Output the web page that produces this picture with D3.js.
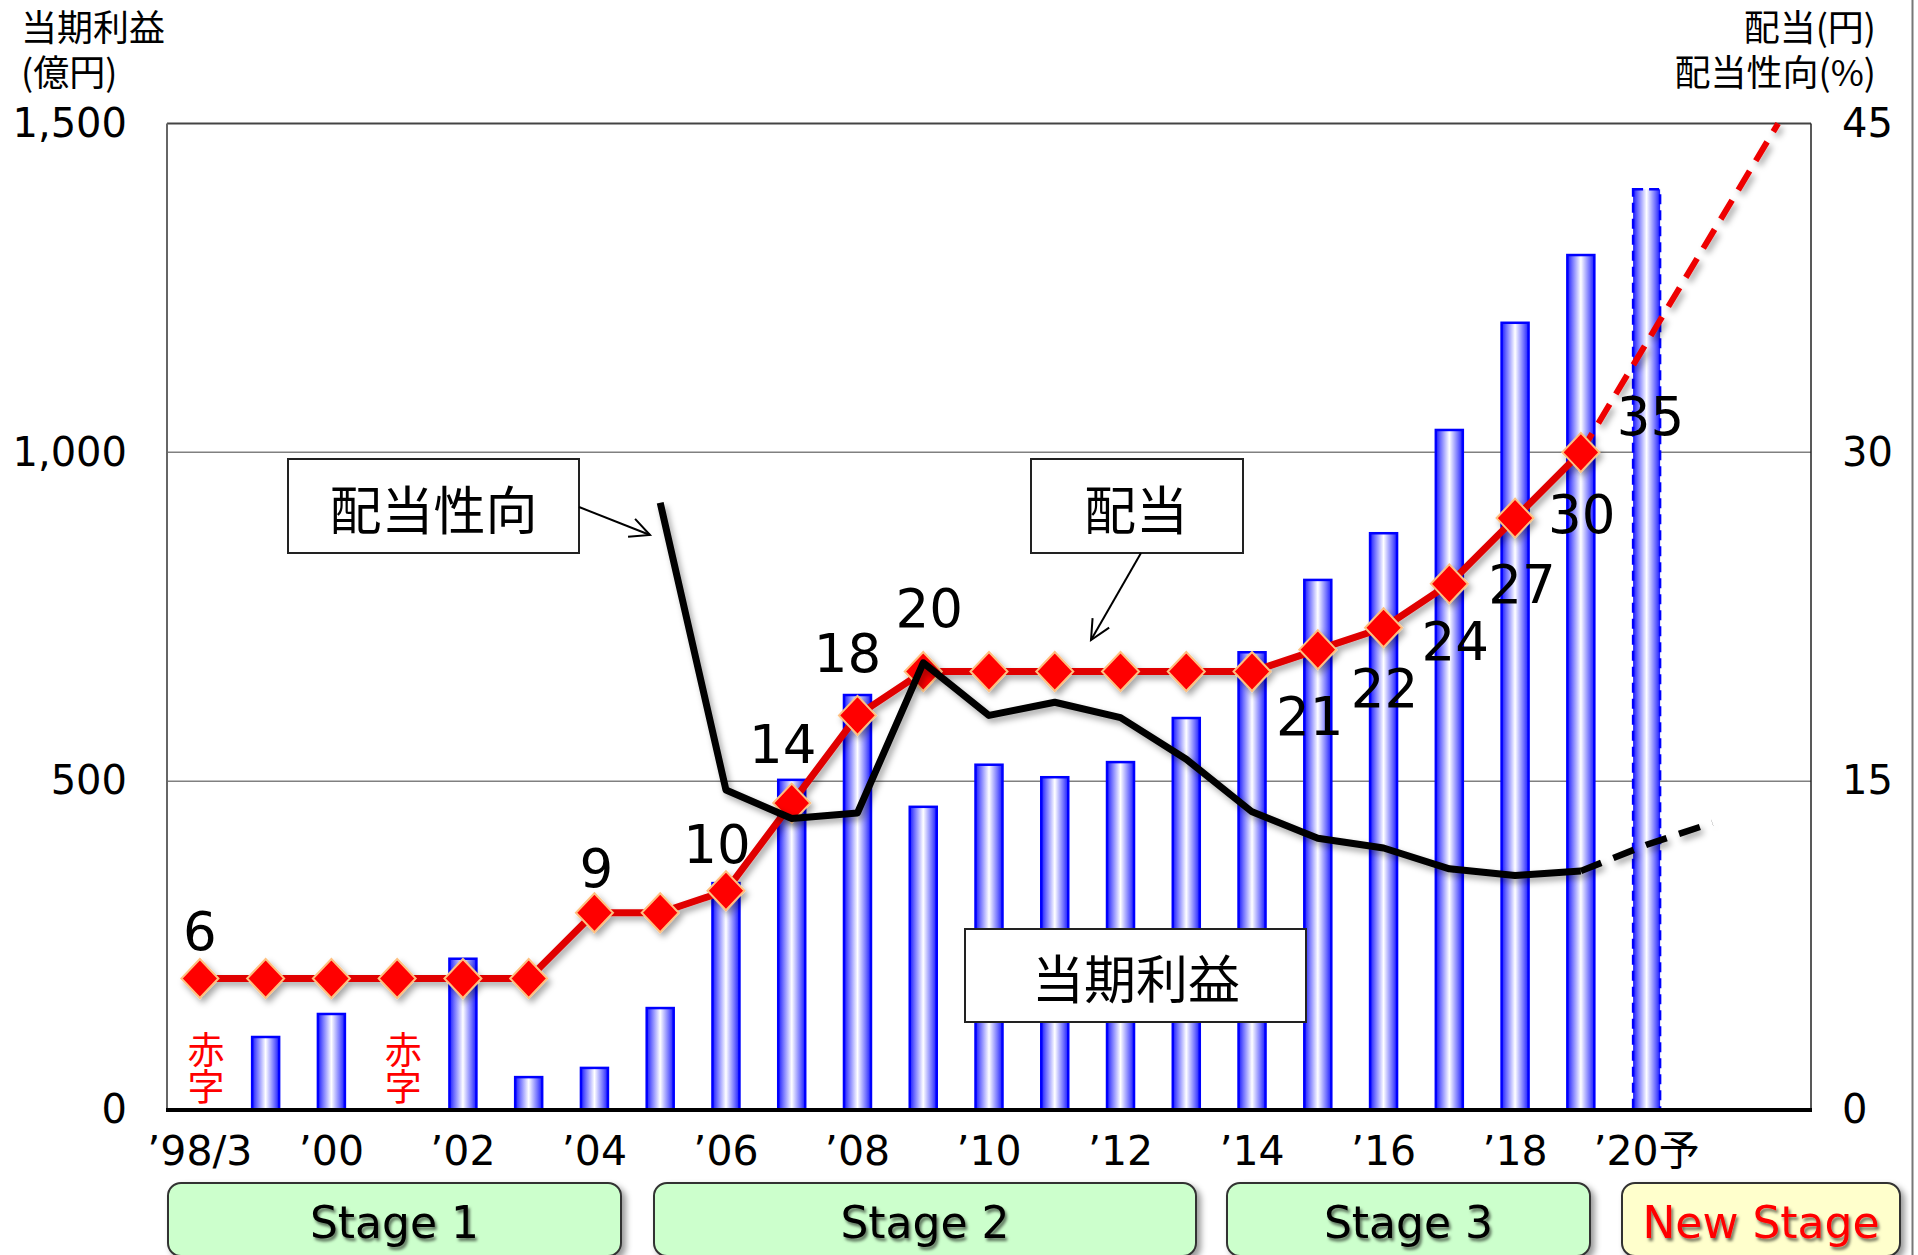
<!DOCTYPE html>
<html><head><meta charset="utf-8">
<script src="https://cdn.jsdelivr.net/npm/d3@7"></script>
<style>
body{margin:0;background:#fff}
#wrap{position:relative;width:1918px;height:1255px}
svg{display:block}
.ttl{position:absolute;font-family:'Noto Sans CJK JP','DejaVu Sans',sans-serif;font-size:36px;line-height:45px;color:#000;white-space:nowrap}
.ttl div{height:45px;overflow:visible}
</style>
</head><body>
<div id="wrap"><svg id="c" width="1918" height="1255"></svg></div>
<script>
// ---------------- data ----------------
const years = [1998,1999,2000,2001,2002,2003,2004,2005,2006,2007,2008,2009,2010,2011,2012,2013,2014,2015,2016,2017,2018,2019,2020,2021,2022];
const barYears = [1998,1999,2000,2001,2002,2003,2004,2005,2006,2007,2008,2009,2010,2011,2012,2013,2014,2015,2016,2017,2018,2019,2020];
const netIncome = [null,111,146,null,230,50,64,155,345,502,631,461,525,506,529,596,696,806,877,1034,1197,1300,1400];
const forecastBarYear = 2020;
const deficitYears = [1998,2001];

const divYears = [1998,1999,2000,2001,2002,2003,2004,2005,2006,2007,2008,2009,2010,2011,2012,2013,2014,2015,2016,2017,2018,2019];
const dividend = [6,6,6,6,6,6,9,9,10,14,18,20,20,20,20,20,20,21,22,24,27,30];
const divForecastYears = [2019,2020,2021,2022];
const divForecast = [30,35,40,45];

const payoutYears = [2005,2006,2007,2008,2009,2010,2011,2012,2013,2014,2015,2016,2017,2018,2019];
const payout = [27.7,14.6,13.3,13.55,20.4,18.0,18.6,17.9,16.0,13.6,12.4,11.95,11.0,10.7,10.9];
const payoutForecastYears = [2019,2020,2021];
const payoutForecast = [10.9,12.1,13.1];

const labelYears = [1998,2004,2006,2007,2008,2009,2015,2016,2017,2018,2019,2020];
const labelValues = [6,9,10,14,18,20,21,22,24,27,30,35];

const xTickYears = [1998,2000,2002,2004,2006,2008,2010,2012,2014,2016,2018,2020];
const xTickLabels = ["\u201998/3","\u201900","\u201902","\u201904","\u201906","\u201908","\u201910","\u201912","\u201914","\u201916","\u201918","\u201920予"];
const leftTicks = [0,500,1000,1500];
const rightTicks = [0,15,30,45];
const stageNames = ["Stage 1","Stage 2","Stage 3","New Stage"];
const leftTitle = ["当期利益","(億円)"];
const rightTitle = ["配当(円)","配当性向(%)"];

// ---------------- layout ----------------
const M = {left:167, right:1811, top:123.5, bottom:1110};
const NUM = "'DejaVu Sans', 'Noto Sans CJK JP', sans-serif";
const JP = "'Noto Sans CJK JP', 'DejaVu Sans', sans-serif";
// label offsets (dx, baseline dy) relative to marker
const labelOffsets = [[0,-28],[2,-26],[-9,-28],[-9,-40],[-10,-43],[6,-45],[-8,85],[1,79],[6,76],[7,85],[1,81],[4,92]];
const stageBoxes = [[168,621],[654,1196],[1227,1590],[1622,1900]];

const svg = d3.select("#c");
const defs = svg.append("defs");
const grad = defs.append("linearGradient").attr("id","barGrad").attr("x1","0").attr("x2","1").attr("y1","0").attr("y2","0");
[[0,"#1a1aff"],[0.18,"#7070ff"],[0.5,"#ffffff"],[0.82,"#7070ff"],[1,"#1a1aff"]].forEach(([o,c])=>grad.append("stop").attr("offset",o).attr("stop-color",c));
const f1 = defs.append("filter").attr("id","shadow").attr("x","-10%").attr("y","-10%").attr("width","130%").attr("height","130%");
f1.append("feDropShadow").attr("dx",3).attr("dy",4).attr("stdDeviation",3).attr("flood-color","#000").attr("flood-opacity",0.35);
const f2 = defs.append("filter").attr("id","tshadow").attr("x","-10%").attr("y","-20%").attr("width","130%").attr("height","150%");
f2.append("feDropShadow").attr("dx",2).attr("dy",3).attr("stdDeviation",1.5).attr("flood-color","#000").attr("flood-opacity",0.55);
const f3 = defs.append("filter").attr("id","bshadow").attr("x","-10%").attr("y","-20%").attr("width","130%").attr("height","150%");
f3.append("feDropShadow").attr("dx",4).attr("dy",4).attr("stdDeviation",3).attr("flood-color","#000").attr("flood-opacity",0.4);

const x = d3.scaleBand().domain(years).range([M.left, M.right]);
const cx = yv => x(yv) + x.bandwidth()/2;
const yL = d3.scaleLinear().domain([0,1500]).range([M.bottom, M.top]);
const yR = d3.scaleLinear().domain([0,45]).range([M.bottom, M.top]);
const barW = 27;

// image right border
svg.append("line").attr("x1",1912.5).attr("x2",1912.5).attr("y1",0).attr("y2",1255).attr("stroke","#777").attr("stroke-width",2);

// gridlines
svg.append("g").selectAll("line").data([500,1000]).join("line")
  .attr("x1",M.left).attr("x2",M.right).attr("y1",d=>yL(d)).attr("y2",d=>yL(d))
  .attr("stroke","#808080").attr("stroke-width",1.5);
// frame
svg.append("line").attr("x1",M.left).attr("x2",M.right).attr("y1",M.top).attr("y2",M.top).attr("stroke","#444").attr("stroke-width",2);
svg.append("line").attr("x1",M.left).attr("x2",M.left).attr("y1",M.top).attr("y2",M.bottom).attr("stroke","#666").attr("stroke-width",2);
svg.append("line").attr("x1",M.right).attr("x2",M.right).attr("y1",M.top).attr("y2",M.bottom).attr("stroke","#222").attr("stroke-width",1.5);

// bars
const barData = barYears.map((yv,i)=>({year:yv, v:netIncome[i]})).filter(d=>d.v!=null);
svg.append("g").selectAll("rect").data(barData).join("rect")
  .attr("x",d=>cx(d.year)-barW/2).attr("width",barW)
  .attr("y",d=>yL(d.v)).attr("height",d=>yL(0)-yL(d.v))
  .attr("fill","url(#barGrad)")
  .attr("stroke","#0000ff").attr("stroke-width",2.5)
  .attr("stroke-dasharray",d=>d.year===forecastBarYear?"10,6":null);

// bottom axis line
svg.append("line").attr("x1",M.left-1).attr("x2",M.right+1).attr("y1",M.bottom).attr("y2",M.bottom).attr("stroke","#000").attr("stroke-width",4);

// 赤字 labels (vertical text)
deficitYears.forEach(yv=>{
  svg.append("text").attr("x",cx(yv)+6).attr("y",1031)
    .attr("font-family",JP).attr("font-size",37).attr("fill","#ff0000")
    .style("writing-mode","vertical-rl").style("glyph-orientation-vertical","0")
    .text("赤字");
});

// annotation boxes
const annBoxes = [
  {x0:288,y0:459,x1:579,y1:553,text:"配当性向",tx:433.5,ty:530},
  {x0:1031,y0:459,x1:1243,y1:553,text:"配当",tx:1136,ty:530},
  {x0:965,y0:929,x1:1306,y1:1022,text:"当期利益",tx:1136,ty:999}
];
const ab = svg.append("g");
annBoxes.forEach(b=>{
  ab.append("rect").attr("x",b.x0).attr("y",b.y0).attr("width",b.x1-b.x0).attr("height",b.y1-b.y0)
    .attr("fill","#fff").attr("stroke","#222").attr("stroke-width",2);
  ab.append("text").attr("x",b.tx).attr("y",b.ty).attr("text-anchor","middle").attr("font-family",JP).attr("font-size",52).attr("fill","#000").text(b.text);
});
// arrows
function arrow(x1,y1,x2,y2){
  const g = svg.append("g").attr("stroke","#000").attr("stroke-width",2).attr("fill","none");
  g.append("line").attr("x1",x1).attr("y1",y1).attr("x2",x2).attr("y2",y2);
  const a = Math.atan2(y2-y1,x2-x1), L=22, s=0.45;
  g.append("path").attr("d",`M${x2-L*Math.cos(a-s)},${y2-L*Math.sin(a-s)}L${x2},${y2}L${x2-L*Math.cos(a+s)},${y2-L*Math.sin(a+s)}`);
}
arrow(579,507,650,535);
arrow(1141,553,1091,640);

// dividend line + diamonds
const gDiv = svg.append("g").attr("filter","url(#shadow)");
const lineR = d3.line().x(d=>cx(d[0])).y(d=>yR(d[1]));
gDiv.append("path").datum(divForecastYears.map((yv,i)=>[yv,divForecast[i]]))
  .attr("d",lineR).attr("fill","none").attr("stroke","#ee0000").attr("stroke-width",6).attr("stroke-dasharray","22,12");
gDiv.append("path").datum(divYears.map((yv,i)=>[yv,dividend[i]]))
  .attr("d",lineR).attr("fill","none").attr("stroke","#e00000").attr("stroke-width",7).attr("stroke-linejoin","round");
gDiv.append("g").selectAll("path").data(divYears.map((yv,i)=>[yv,dividend[i]])).join("path")
  .attr("transform",d=>`translate(${cx(d[0])},${yR(d[1])})`)
  .attr("d","M0,-19.5L18.5,0L0,19.5L-18.5,0Z")
  .attr("fill","#ff0000").attr("stroke","#ffc080").attr("stroke-width",2);

// payout ratio line
const gPay = svg.append("g").attr("filter","url(#shadow)");
gPay.append("path").datum(payoutForecastYears.map((yv,i)=>[yv,payoutForecast[i]]))
  .attr("d",lineR).attr("fill","none").attr("stroke","#000").attr("stroke-width",6.5).attr("stroke-dasharray","22,13");
gPay.append("path").datum(payoutYears.map((yv,i)=>[yv,payout[i]]))
  .attr("d",lineR).attr("fill","none").attr("stroke","#000").attr("stroke-width",7).attr("stroke-linejoin","round");

// dividend value labels
const valFor = yv => { const i = divYears.indexOf(yv); return i>=0 ? dividend[i] : divForecast[divForecastYears.indexOf(yv)]; };
svg.append("g").selectAll("text").data(labelYears.map((yv,i)=>({yv, t:labelValues[i], o:labelOffsets[i]}))).join("text")
  .attr("x",d=>cx(d.yv)+d.o[0]).attr("y",d=>yR(valFor(d.yv))+d.o[1])
  .attr("text-anchor","middle").attr("font-family",NUM).attr("font-size",53).attr("fill","#000")
  .text(d=>d.t);

// axes
const axL = svg.append("g").attr("transform",`translate(${M.left},0)`)
  .call(d3.axisLeft(yL).tickValues(leftTicks).tickFormat(d3.format(",")).tickSize(0).tickPadding(40));
const axR = svg.append("g").attr("transform",`translate(${M.right},0)`)
  .call(d3.axisRight(yR).tickValues(rightTicks).tickFormat(d3.format("d")).tickSize(0).tickPadding(31));
const axB = svg.append("g").attr("transform",`translate(0,${M.bottom})`)
  .call(d3.axisBottom(x).tickValues(xTickYears).tickFormat(d=>xTickLabels[xTickYears.indexOf(d)]).tickSize(0).tickPadding(26));
[axL,axR,axB].forEach(a=>{
  a.select(".domain").remove();
  a.selectAll("text").attr("font-family",NUM).attr("font-size",40).attr("fill","#000");
});
axB.selectAll("text").attr("font-size",41);

// axis titles (two-line, HTML overlay with fixed line boxes)
const wrap = d3.select("#wrap");
const lt = wrap.append("div").attr("class","ttl").style("left","21px").style("top","3px").style("text-align","left");
lt.selectAll("div").data(leftTitle).join("div").text(d=>d);
const rt = wrap.append("div").attr("class","ttl").style("right",(1918-1876)+"px").style("top","3px").style("text-align","right");
rt.selectAll("div").data(rightTitle).join("div").text(d=>d);

// stage boxes
const gs = svg.append("g");
stageNames.forEach((s,i)=>{
  const [a,b] = stageBoxes[i];
  const isNew = i===3;
  gs.append("rect").attr("x",a).attr("y",1183).attr("width",b-a).attr("height",73).attr("rx",13)
    .attr("fill",isNew?"#ffffcc":"#ccffcc").attr("stroke","#333").attr("stroke-width",2).attr("filter","url(#bshadow)");
  gs.append("text").attr("x",(a+b)/2).attr("y",1238).attr("text-anchor","middle")
    .attr("font-family",NUM).attr("font-size",44).attr("fill",isNew?"#ff0000":"#000").attr("filter","url(#tshadow)").text(s);
});
</script>
</body></html>
